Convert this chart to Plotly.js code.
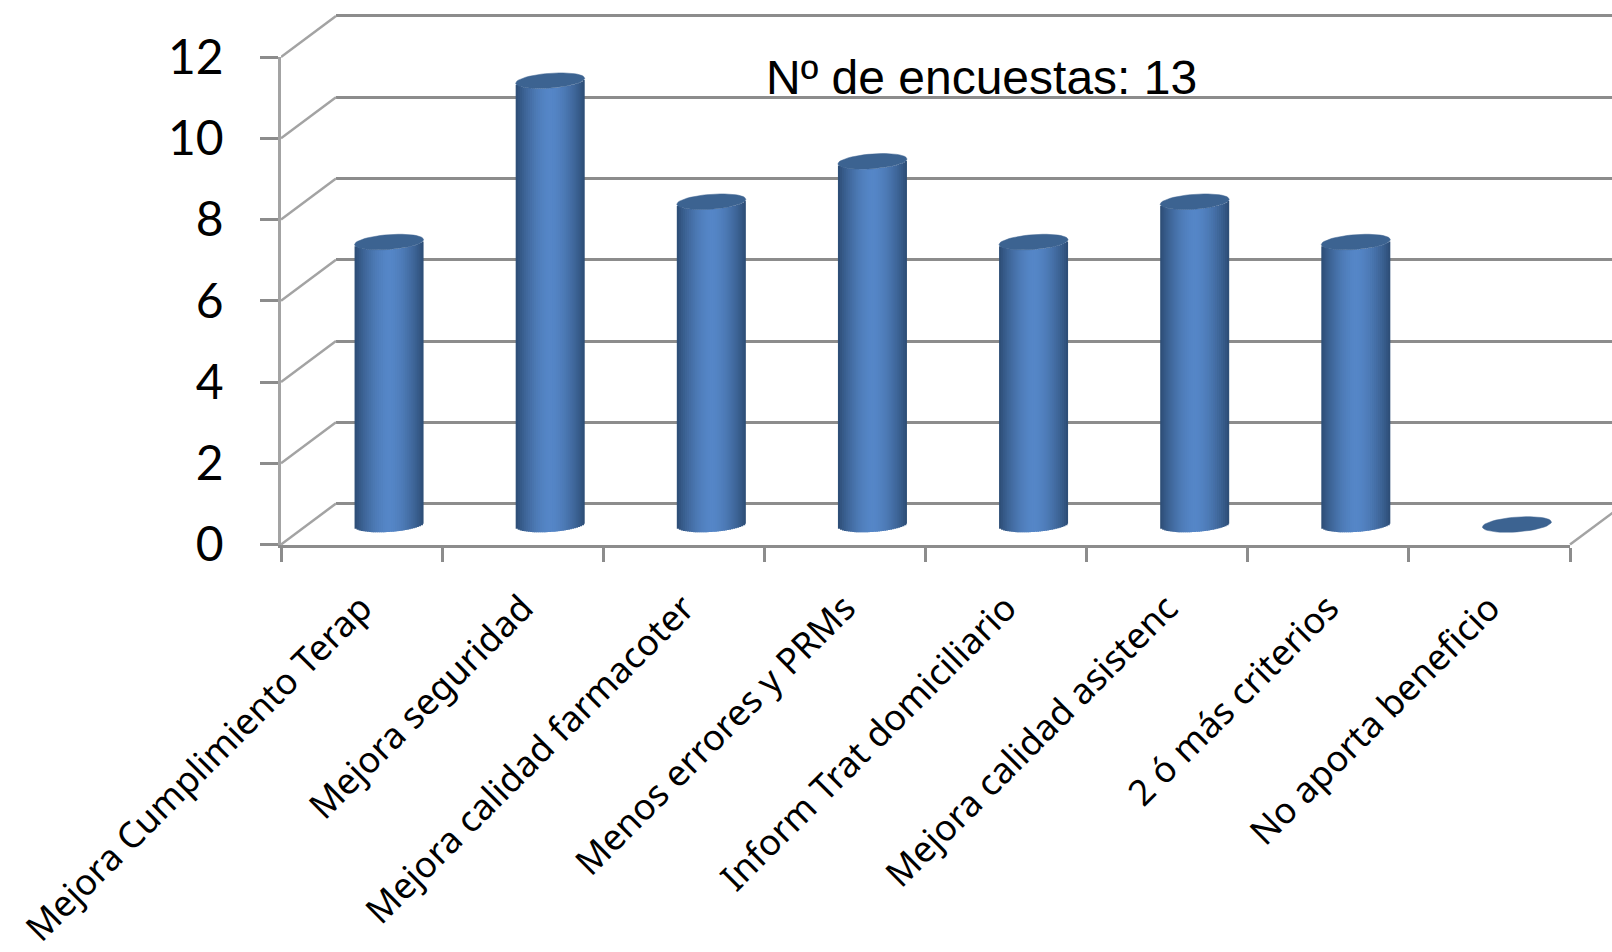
<!DOCTYPE html>
<html>
<head>
<meta charset="utf-8">
<script src="https://cdn.plot.ly/plotly-3.0.1.min.js"></script>
<style>html,body{margin:0;padding:0;background:#fff}#chart{width:1612px;height:952px}</style>
</head>
<body>
<div id="chart"></div>
<script>
const categories = ["Mejora Cumplimiento Terap","Mejora seguridad","Mejora calidad farmacoter","Menos errores y PRMs","Inform Trat domiciliario","Mejora calidad asistenc","2 ó más criterios","No aporta beneficio"];
const values = [7,11,8,9,7,8,7,0];
const yTicks = [0,2,4,6,8,10,12];
const noteText = "Nº de encuestas: 13";

const W = 1612, H = 952;
const frontLeft = 281, frontRight = 1570, frontBottom = 544.5, frontTop = 57;
const depthX = 55, depthY = 41;
const catPx = (frontRight - frontLeft) / categories.length;
const unitPx = (frontBottom - frontTop) / 12;
const barUnitPx = unitPx + 0.2;
const fx = p => p / W, fy = p => 1 - p / H;
// domain of a y axis spanning [lo,hi], its baseline raised by "lift" px
const yDomain = (lo, hi, lift, unit = unitPx) => [fy(frontBottom - lift - lo * unit), fy(frontBottom - lift - hi * unit)];

const barW = 69 / catPx, halfEll = 7.5 / barUnitPx, tilt = 2.5 / barUnitPx;
const idx = categories.map((_, i) => i);
const N = 34;
function shade(t) {
  const m = Math.min(1, Math.pow(Math.abs(t), 1.7));
  const dark = [44, 76, 116], light = [85, 134, 199];
  const c = light.map((l, k) => Math.round(l + (dark[k] - l) * m));
  return `rgb(${c[0]},${c[1]},${c[2]})`;
}
const traces = [];
// empty trace so that the back-wall subplot and its gridlines exist
traces.push({type:'scatter', mode:'markers', x:[0], y:[0], xaxis:'x', yaxis:'y',
  marker:{opacity:0, size:1}, hoverinfo:'skip', showlegend:false});
// empty trace so that the category axis is drawn
traces.push({type:'scatter', mode:'markers', x:categories, y:values, xaxis:'x2', yaxis:'y2',
  marker:{opacity:0, size:1}, hoverinfo:'skip', showlegend:false});
// cylinder sides as narrow bars
for (let s = 0; s < N; s++) {
  const t = -1 + (2 * s + 1) / N;
  const arc = -halfEll * Math.sqrt(1 - t * t) + tilt * t;
  traces.push({type:'bar', x:idx, y:values, base:idx.map(() => arc),
    width:barW / N * (s === N - 1 ? 1 : 1.7), offset:-barW / 2 + s * barW / N,
    marker:{color:shade(t), line:{width:0}}, xaxis:'x3', yaxis:'y3',
    hoverinfo:'skip', showlegend:false});
}
// cylinder tops
const ex = [], ey = [];
values.forEach((v, i) => {
  for (let a = 0; a <= 48; a++) {
    const th = a / 48 * 2 * Math.PI;
    ex.push(i + barW / 2 * Math.cos(th));
    ey.push(v + halfEll * Math.sin(th) + tilt * Math.cos(th));
  }
  ex.push(null); ey.push(null);
});
traces.push({type:'scatter', mode:'lines', x:ex, y:ey, fill:'toself', fillcolor:'#3c6391',
  line:{color:'#3c6391', width:0.5}, xaxis:'x3', yaxis:'y3',
  hoverinfo:'skip', showlegend:false});
// perspective lines of the side wall and floor
const dx = [], dy = [];
yTicks.forEach(v => { dx.push(-0.5, -0.5 + depthX / catPx, null); dy.push(v, v + depthY / unitPx, null); });
dx.push(7.5, 7.5 + depthX / catPx); dy.push(0, depthY / unitPx);
traces.push({type:'scatter', mode:'lines', x:dx, y:dy, xaxis:'x4', yaxis:'y4',
  line:{color:'#a3a3a3', width:2.5}, hoverinfo:'skip', showlegend:false});

const layout = {
  width:W, height:H, margin:{l:0,r:0,t:0,b:0}, paper_bgcolor:'#fff', plot_bgcolor:'rgba(0,0,0,0)',
  showlegend:false, barmode:'overlay',
  // back wall with gridlines
  xaxis:{domain:[fx(frontLeft + depthX), 1], range:[0,1], visible:false, anchor:'y', fixedrange:true},
  yaxis:{domain:yDomain(-0.2, 12.2, depthY), range:[-0.2,12.2], tickvals:yTicks, visible:true,
    showgrid:true, gridcolor:'#8c8c8c', gridwidth:3, zeroline:false, showline:false, ticks:'', showticklabels:false, anchor:'x', fixedrange:true},
  // front axes with ticks and labels
  xaxis2:{domain:[fx(frontLeft), fx(frontRight)], type:'category', categoryorder:'array', categoryarray:categories,
    range:[-0.5,7.5], tickson:'boundaries', anchor:'y2', showgrid:false, zeroline:false, showline:true, linecolor:'#8c8c8c', linewidth:3,
    ticks:'outside', ticklen:14, tickwidth:3, tickcolor:'#8c8c8c', tickangle:-45, ticklabelstandoff:25,
    tickfont:{family:'"Noto Sans"', size:36, color:'#000'}, fixedrange:true},
  yaxis2:{domain:yDomain(0, 12, 0), range:[0,12], tickvals:yTicks, ticktext:yTicks.map(String), anchor:'x2',
    showgrid:false, zeroline:false, showline:true, linecolor:'#a3a3a3', linewidth:2.5,
    ticks:'outside', ticklen:18, tickwidth:3, tickcolor:'#8c8c8c', ticklabelstandoff:27,
    tickfont:{family:'"Lato"', size:48, color:'#000'}, fixedrange:true},
  // bars sit half way into the depth
  xaxis3:{domain:[fx(frontLeft + depthX / 2), fx(frontRight + depthX / 2)], range:[-0.5,7.5], visible:false, anchor:'y3', fixedrange:true},
  yaxis3:{domain:yDomain(-1, 13, 20.5, barUnitPx), range:[-1,13], visible:false, anchor:'x3', fixedrange:true},
  // side wall and floor diagonals
  xaxis4:{domain:[fx(frontLeft), 1], range:[-0.5, -0.5 + (W - frontLeft) / catPx], visible:false, anchor:'y4', fixedrange:true},
  yaxis4:{domain:yDomain(-1, 13.2, 0), range:[-1,13.2], visible:false, anchor:'x4', fixedrange:true},
  annotations:[{text:noteText, xref:'paper', yref:'paper', x:fx(764), y:fy(77), xanchor:'left', yanchor:'middle', showarrow:false,
    font:{family:'"Liberation Sans"', size:48, color:'#000'}}]
};
Plotly.newPlot('chart', traces, layout, {displayModeBar:false, responsive:false});
</script>
</body>
</html>
